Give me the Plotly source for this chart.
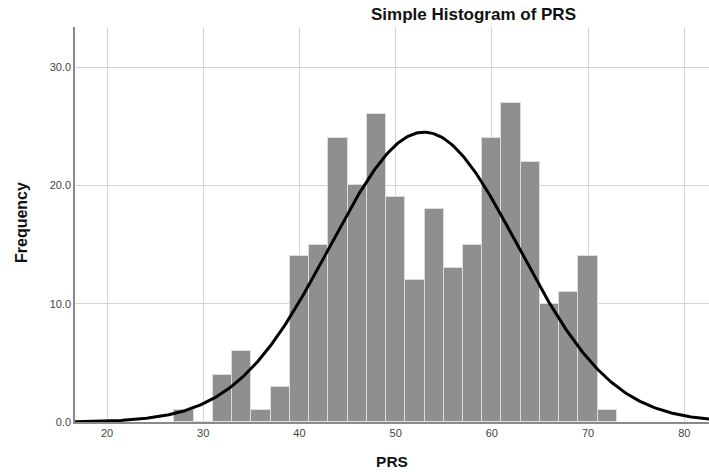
import numpy as np
import plotly.graph_objects as go

# Histogram bins (left edges, width 2) and frequencies
bin_left = [27, 29, 31, 33, 35, 37, 39, 41, 43, 45, 47, 49, 51, 53, 55, 57, 59, 61, 63, 65, 67, 69, 71]
counts =   [1,  0,  4,  6,  1,  3,  14, 15, 24, 20, 26, 19, 12, 18, 13, 15, 24, 27, 22, 10, 11, 14, 1]
bin_width = 2

# Normal curve parameters
curve_mean = 52.95
curve_sd = 9.77

x_ticks = [20, 30, 40, 50, 60, 70, 80]
y_ticks = [0, 10, 20, 30]

n_total = sum(counts)
centers = [b + bin_width / 2 for b in bin_left]

xr = [16.67, 82.57]
xc = np.linspace(xr[0], xr[1], 400)
yc = n_total * bin_width / (curve_sd * np.sqrt(2 * np.pi)) * np.exp(-0.5 * ((xc - curve_mean) / curve_sd) ** 2)

fig = go.Figure()
fig.add_trace(go.Bar(
    x=centers, y=counts, width=bin_width,
    marker=dict(color="#8f8f8f", line=dict(color="#dcdcdc", width=1)),
    hoverinfo="x+y",
))
fig.add_trace(go.Scatter(
    x=xc, y=yc, mode="lines",
    line=dict(color="black", width=3),
    hoverinfo="skip",
))

fig.update_layout(
    width=709, height=472,
    margin=dict(l=75, r=0, t=27, b=50),
    paper_bgcolor="white", plot_bgcolor="white",
    showlegend=False,
    font=dict(family="Liberation Sans, Arial, sans-serif", color="#444444"),
    title=dict(
        text="<b>Simple Histogram of PRS</b>",
        font=dict(size=17, color="#111111"),
        x=473.5 / 709, xref="container", xanchor="center",
        y=1 - 14 / 472, yref="container", yanchor="middle",
    ),
    bargap=0,
    annotations=[dict(
        text="<b>Frequency</b>", textangle=-90,
        font=dict(size=16, color="#111111"),
        xref="paper", yref="paper",
        x=(21 - 75) / 634, y=(422 - 223) / 395,
        xanchor="center", yanchor="middle", showarrow=False,
    )],
)
fig.update_xaxes(
    range=xr, tickvals=x_ticks, ticktext=[str(v) for v in x_ticks],
    showgrid=True, gridcolor="#d4d4d4", gridwidth=1,
    showline=True, linecolor="#8a8a8a", linewidth=1.5,
    zeroline=False, ticks="", automargin=False,
    tickfont=dict(size=11, color="#444444"),
    title=dict(text="<b>PRS</b>", font=dict(size=15.5, color="#111111"), standoff=18),
)
fig.update_yaxes(
    range=[0, 395 / 11.83], tickvals=y_ticks, ticktext=["%.1f" % v for v in y_ticks],
    showgrid=True, gridcolor="#d4d4d4", gridwidth=1,
    showline=True, linecolor="#8a8a8a", linewidth=1.5,
    zeroline=False, ticks="", automargin=False,
    tickfont=dict(size=11, color="#444444"),
)

fig.write_html(
    "out.html",
    config={"displayModeBar": False},
    post_script="document.body.style.margin='0';document.body.style.padding='0';",
)
